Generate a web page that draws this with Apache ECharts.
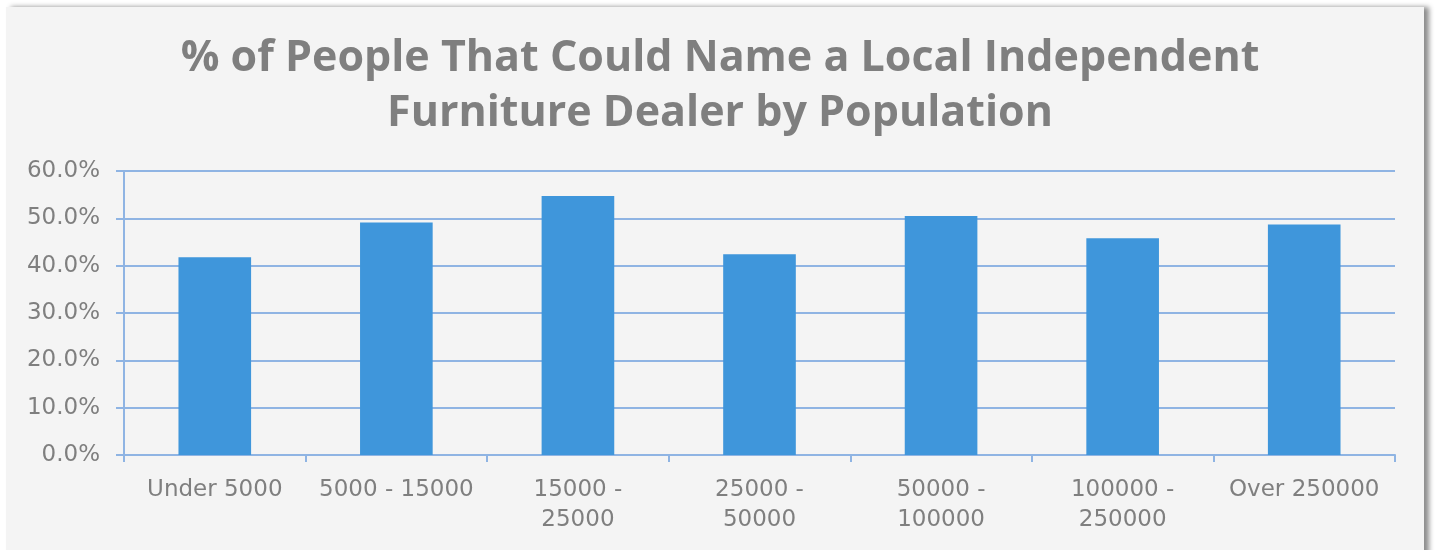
<!DOCTYPE html>
<html>
<head>
<meta charset="utf-8">
<script src="https://cdn.jsdelivr.net/npm/echarts@6/dist/echarts.min.js"></script>
<style>
html,body{margin:0;padding:0;background:#ffffff;width:1435px;height:550px;overflow:hidden;}
#panel{position:absolute;left:6px;top:7px;width:1418px;height:560px;background:#f4f4f4;box-shadow:5px 0 5px rgba(0,0,0,0.45);}
#chart{position:absolute;left:0;top:0;width:1435px;height:550px;}
</style>
</head>
<body>
<div id="panel"></div>
<div id="chart"></div>
<script>
var titleText = '% of People That Could Name a Local Independent\nFurniture Dealer by Population';
var categories = ['Under 5000', '5000 - 15000', '15000 - 25000', '25000 - 50000', '50000 - 100000', '100000 - 250000', 'Over 250000'];
var values = [41.8, 49.1, 54.7, 42.4, 50.5, 45.8, 48.7];
var yTicks = [0, 10, 20, 30, 40, 50, 60];

var chart = echarts.init(document.getElementById('chart'), null, {renderer: 'canvas'});
var lineColor = '#8fb4e3';
var textColor = '#7f7f7f';
var labelFont = '"DejaVu Sans", sans-serif';
var titleFont = '"Open Sans", sans-serif';
chart.setOption({
  backgroundColor: 'transparent',
  animation: false,
  title: {
    text: titleText,
    left: 715,
    top: 26,
    textAlign: 'center',
    textStyle: {
      fontFamily: titleFont,
      fontSize: 43,
      fontWeight: 'bold',
      color: textColor,
      lineHeight: 55
    }
  },
  grid: {left: 124, right: 40, top: 171, bottom: 95, containLabel: false},
  xAxis: {
    type: 'category',
    data: categories,
    axisLine: {lineStyle: {color: lineColor, width: 2}},
    axisTick: {show: true, length: 7, lineStyle: {color: lineColor, width: 2}},
    axisLabel: {
      margin: 20,
      color: textColor,
      fontFamily: labelFont,
      fontSize: 23,
      lineHeight: 30,
      interval: 0,
      formatter: function (v) { return v.length > 12 ? v.replace(' - ', ' -\n') : v; }
    }
  },
  yAxis: {
    type: 'value',
    min: yTicks[0],
    max: yTicks[yTicks.length - 1],
    interval: 10,
    axisLine: {show: true, lineStyle: {color: lineColor, width: 2}},
    axisTick: {show: true, length: 8, lineStyle: {color: lineColor, width: 2}},
    splitLine: {show: true, lineStyle: {color: lineColor, width: 2}},
    axisLabel: {
      margin: 24,
      color: textColor,
      fontFamily: labelFont,
      fontSize: 23,
      formatter: function (v) { return v.toFixed(1) + '%'; }
    }
  },
  series: [{
    type: 'bar',
    data: values,
    barWidth: '40%',
    itemStyle: {color: '#3f96db'}
  }]
});
</script>
</body>
</html>
